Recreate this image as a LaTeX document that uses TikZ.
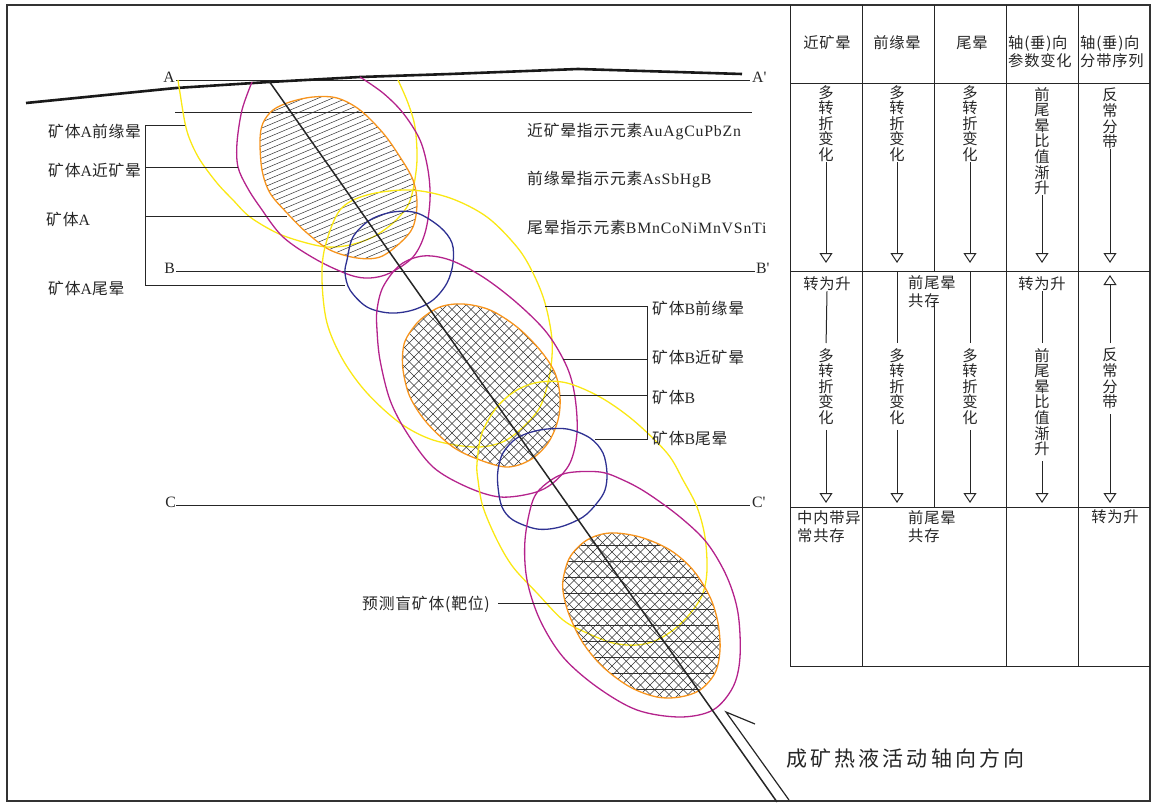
\documentclass[tikz,border=0pt]{standalone}
\usepackage{fontspec}
\setmainfont{Liberation Serif}[LetterSpace=5]
\newfontfamily\cjk{Noto Sans CJK SC}[LetterSpace=5]
\newfontfamily\cjkwide{Noto Sans CJK SC}[LetterSpace=15]
\usetikzlibrary{arrows.meta}
\newcommand{\zh}[1]{{\cjk #1}}
\definecolor{haloY}{RGB}{250,232,20}
\definecolor{haloM}{RGB}{180,35,140}
\definecolor{oreO}{RGB}{247,148,29}
\definecolor{haloB}{RGB}{46,49,146}
\begin{document}
\begin{tikzpicture}[x=1pt,y=-1pt,
  tl/.style={line width=1pt, black!85},
  lbl/.style={inner sep=0pt, font=\fontsize{15.8}{18}\selectfont, text=black!85},
  tbl/.style={inner sep=0pt, font=\cjk\fontsize{15.3}{15.6}\selectfont, text=black!85, align=center},
  tbl2/.style={inner sep=0pt, font=\cjk\fontsize{15.3}{18}\selectfont, text=black!85, align=left},
  arr/.style={line width=1pt, black!85, -{Triangle[open,length=10pt,width=13pt]}},
  halo/.style={line width=1.3pt},
  hatch/.style={line width=0.5pt, black!80},
  gap/.style={shorten >=5pt}
]
\useasboundingbox (0,0) rectangle (1157,803);

% ---------- outer frame ----------
\draw[line width=2pt, black!80] (7,5) rectangle (1150,801);

% ---------- table grid ----------
\draw[tl] (790,5) -- (790,666) -- (1150,666);
\draw[tl] (790,83) -- (1150,83);
\draw[tl] (790,271) -- (1150,271);
\draw[tl] (790,507) -- (1150,507);
\draw[tl] (862,5) -- (862,666);
\draw[tl] (934,5) -- (934,271);
\draw[tl] (934,302) -- (934,507);
\draw[tl] (1006,5) -- (1006,666);
\draw[tl] (1078,5) -- (1078,666);

% header
\node[tbl] (h1) at (827,43) {近矿晕};
\node[tbl] (h2) at (897,43) {前缘晕};
\node[tbl] (h3) at (972,43) {尾晕};
\node[tbl2, anchor=north west] (h4) at (1008,35) {轴(垂)向\\参数变化};
\node[tbl2, anchor=north west] (h5) at (1080,35) {轴(垂)向\\分带序列};

% row 1
\node[tbl, anchor=north] (a1) at (826,85) {多\\转\\折\\变\\化};
\node[tbl, anchor=north] (a2) at (897,85) {多\\转\\折\\变\\化};
\node[tbl, anchor=north] (a3) at (970,85) {多\\转\\折\\变\\化};
\node[tbl, anchor=north] (a4) at (1042,87) {前\\尾\\晕\\比\\值\\渐\\升};
\node[tbl, anchor=north] (a5) at (1110,88) {反\\常\\分\\带};
\coordinate (t1) at (826,263);
\coordinate (t2) at (897,263);
\coordinate (t3) at (970,263);
\coordinate (t4) at (1042,263);
\coordinate (t5) at (1110,263);
\foreach \i in {1,...,5} \draw[arr] (a\i.south) -- (t\i);

% row 2
\node[tbl] (b1top) at (827,284) {转为升};
\node[tbl] (b4top) at (1042,284) {转为升};
\node[tbl2, anchor=north west] (b23top) at (908,275) {前尾晕\\共存};
\coordinate (b2top) at (897,271);
\coordinate (b3top) at (970,271);
\coordinate (b5top) at (1110,275);
\node[tbl, anchor=north] (b1) at (826,348) {多\\转\\折\\变\\化};
\node[tbl, anchor=north] (b2) at (897,348) {多\\转\\折\\变\\化};
\node[tbl, anchor=north] (b3) at (970,348) {多\\转\\折\\变\\化};
\node[tbl, anchor=north] (b4) at (1042,348) {前\\尾\\晕\\比\\值\\渐\\升};
\node[tbl, anchor=north] (b5) at (1110,348) {反\\常\\分\\带};
\draw[tl, gap] (b1top.south) -- (b1.north);
\draw[tl, gap] (b2top) -- (b2.north);
\draw[tl, gap] (b3top) -- (b3.north);
\draw[tl, gap] (b4top.south) -- (b4.north);
\draw[arr, shorten <=5pt] (b5.north) -- (b5top);
\coordinate (u1) at (826,503);
\coordinate (u2) at (897,503);
\coordinate (u3) at (970,503);
\coordinate (u4) at (1042,503);
\coordinate (u5) at (1110,503);
\foreach \i in {1,...,5} \draw[arr, shorten <=5pt] (b\i.south) -- (u\i);

% row 3
\node[tbl2, anchor=north west] (c1) at (797,510) {中内带异\\常共存};
\node[tbl2, anchor=north west] (c23) at (908,510) {前尾晕\\共存};
\node[tbl] (c5) at (1115,517) {转为升};

% ---------- section lines ----------
\coordinate (A1) at (176,80);  \coordinate (A2) at (750,80);
\coordinate (M1) at (175,112); \coordinate (M2) at (752,112);
\coordinate (B1) at (176,271); \coordinate (B2) at (755,271);
\coordinate (C1) at (176,505); \coordinate (C2) at (750,505);
\draw[tl] (A1) -- (A2);
\draw[tl] (M1) -- (M2);
\draw[tl] (B1) -- (B2);
\draw[tl] (C1) -- (C2);
\node[lbl, anchor=base east] (lA) at (175,82) {A};
\node[lbl, anchor=base west] (lA2) at (752,82) {A\textquotesingle};
\node[lbl, anchor=base east] (lB) at (175,273) {B};
\node[lbl, anchor=base west] (lB2) at (756,273) {B\textquotesingle};
\node[lbl, anchor=base east] (lC) at (176,507) {C};
\node[lbl, anchor=base west] (lC2) at (752,507) {C\textquotesingle};

% ground surface
\draw[line width=2.6pt, line join=round, black!90] (26,103) -- (176,88) -- (269,82) -- (360,77) -- (450,74) -- (578,69) -- (742,74);

% ---------- halos and ore bodies ----------
% ore body A
\draw[haloY, halo] plot[smooth, tension=0.55] coordinates {(178,80) (180,93) (185,123) (190,140) (200,160) (217,183) (233,200) (250,217) (277,233) (303,242) (327,247) (350,245) (373,237) (393,223) (407,207) (413,190) (417,160) (415,127) (408,103) (398,80)};
\draw[haloM, halo] plot[smooth, tension=0.55] coordinates {(252,82) (242,110) (237,143) (238,167) (247,187) (260,207) (283,237) (317,260) (350,275) (370,278) (390,273) (413,257) (425,233) (430,200) (428,170) (420,140) (403,113) (383,93) (360,77)};
\path[save path=\oreApath] plot[smooth cycle, tension=0.55] coordinates {(313,97) (290,102) (273,110) (263,123) (260,140) (262,170) (270,193) (287,213) (307,233) (330,250) (357,258) (380,257) (400,243) (413,227) (417,203) (413,180) (400,157) (383,133) (360,110) (337,98)};
\begin{scope}
  \clip[use path=\oreApath];
  \foreach \k in {0,...,40} \draw[hatch] (250,{97+6*\k}) -- ++(180,-76);
\end{scope}
\draw[oreO, halo, use path=\oreApath];
\draw[haloB, halo] plot[smooth cycle, tension=0.55] coordinates {(347,260) (353,237) (370,220) (393,212) (417,213) (440,227) (452,243) (453,263) (447,283) (433,300) (413,310) (390,313) (367,307) (350,290) (345,273)};

% ore body B
\draw[haloY, halo] plot[smooth cycle, tension=0.55] coordinates {(340,210) (367,195) (410,190) (450,198) (487,217) (517,247) (533,273) (545,303) (552,340) (550,373) (540,407) (520,430) (500,443) (473,447) (433,440) (400,423) (367,393) (343,360) (327,323) (322,280) (325,247)};
\draw[haloM, halo] plot[smooth cycle, tension=0.55] coordinates {(377,310) (383,287) (400,265) (423,256) (450,260) (483,277) (517,303) (547,333) (567,367) (575,397) (577,433) (570,463) (553,483) (533,493) (500,497) (467,487) (433,467) (407,433) (390,400) (380,360) (377,330)};
\path[save path=\oreBpath] plot[smooth cycle, tension=0.55] coordinates {(407,337) (420,320) (440,307) (463,304) (490,310) (517,327) (540,350) (555,373) (560,397) (558,420) (548,443) (530,460) (507,467) (480,460) (453,447) (427,423) (410,397) (403,370) (403,350)};
\begin{scope}
  \clip[use path=\oreBpath];
  \foreach \k in {-18,...,36} {
    \draw[hatch] (395,{300+9.5*\k}) -- ++(175,-175);
    \draw[hatch] (395,{300+9.5*\k}) -- ++(175,175);
  }
\end{scope}
\draw[oreO, halo, use path=\oreBpath];
\draw[haloB, halo] plot[smooth cycle, tension=0.55] coordinates {(503,453) (517,438) (540,430) (567,429) (590,438) (603,453) (607,473) (605,490) (597,503) (583,517) (560,527) (537,529) (513,520) (502,507) (498,487) (498,470)};

% predicted blind ore body
\draw[haloY, halo] plot[smooth cycle, tension=0.55] coordinates {(497,407) (517,390) (540,382) (567,383) (600,397) (633,420) (667,453) (683,480) (697,507) (705,537) (707,570) (703,593) (693,610) (677,627) (657,640) (637,645) (613,643) (587,633) (563,620) (537,593) (513,567) (497,540) (483,507) (478,480) (477,463) (482,433)};
\draw[haloM, halo] plot[smooth cycle, tension=0.55] coordinates {(533,500) (547,483) (567,473) (600,472) (623,480) (647,493) (680,517) (707,543) (727,577) (738,613) (740,657) (733,687) (713,710) (680,717) (637,710) (597,687) (563,657) (540,620) (527,580) (525,540)};
\path[save path=\oreCpath] plot[smooth cycle, tension=0.55] coordinates {(563,580) (570,557) (587,540) (610,533) (640,537) (670,550) (693,570) (710,597) (718,623) (720,650) (715,673) (700,690) (680,697) (657,697) (630,687) (603,667) (583,643) (570,617) (564,597)};
\begin{scope}
  \clip[use path=\oreCpath];
  \foreach \k in {-18,...,36} {
    \draw[hatch] (555,{533+9.5*\k}) -- ++(175,-175);
    \draw[hatch] (555,{533+9.5*\k}) -- ++(175,175);
  }
  \foreach \yy in {545,561,...,700} \draw[hatch] (555,\yy) -- (725,\yy);
\end{scope}
\draw[oreO, halo, use path=\oreCpath];

% ---------- leader lines and labels ----------
\draw[tl] (185,125) -- (145,125) -- (145,285) -- (345,285);
\draw[tl] (145,167) -- (238,167);
\draw[tl] (145,216) -- (287,216);
\node[lbl, anchor=west] (LA1) at (48,131) {\zh{矿体}A\zh{前缘晕}};
\node[lbl, anchor=west] (LA2) at (48,170) {\zh{矿体}A\zh{近矿晕}};
\node[lbl, anchor=west] (LA3) at (46,219) {\zh{矿体}A};
\node[lbl, anchor=west] (LA4) at (48,288) {\zh{矿体}A\zh{尾晕}};

\draw[tl] (545,306) -- (647,306) -- (647,439) -- (595,439);
\draw[tl] (563,359) -- (647,359);
\draw[tl] (560,395) -- (647,395);
\node[lbl, anchor=west] (LB1) at (652,308) {\zh{矿体}B\zh{前缘晕}};
\node[lbl, anchor=west] (LB2) at (652,357) {\zh{矿体}B\zh{近矿晕}};
\node[lbl, anchor=west] (LB3) at (652,397) {\zh{矿体}B};
\node[lbl, anchor=west] (LB4) at (652,438) {\zh{矿体}B\zh{尾晕}};

\node[lbl, anchor=west] (E1) at (527,132) {\zh{近矿晕指示元素}AuAgCuPbZn};
\node[lbl, anchor=west] (E2) at (527,180) {\zh{前缘晕指示元素}AsSbHgB};
\node[lbl, anchor=west] (E3) at (527,227) {\zh{尾晕指示元素}BMnCoNiMnVSnTi};

\node[lbl, anchor=west] (P) at (362,604) {\zh{预测盲矿体(靶位)}};
\coordinate (Pend) at (565,603);
\draw[tl] (P.east) ++(8pt,0) coordinate (Pstart);
\draw[tl] (Pstart |- Pend) -- (Pend);

% ---------- axis of ore-forming fluid activity ----------
\coordinate (ax1) at (269,81);
\coordinate (ax2) at (777,802);
\draw[line width=1.5pt, black!85] (ax1) -- (ax2);
\coordinate (tipA) at (726,712);
\draw[line width=1.2pt, black!85, line join=miter] (789,800) -- (tipA) -- (755,724);
\node[inner sep=0pt, anchor=west, font=\cjkwide\fontsize{21}{24}\selectfont, text=black!85] (dir) at (786,759) {成矿热液活动轴向方向};
\end{tikzpicture}
\end{document}
